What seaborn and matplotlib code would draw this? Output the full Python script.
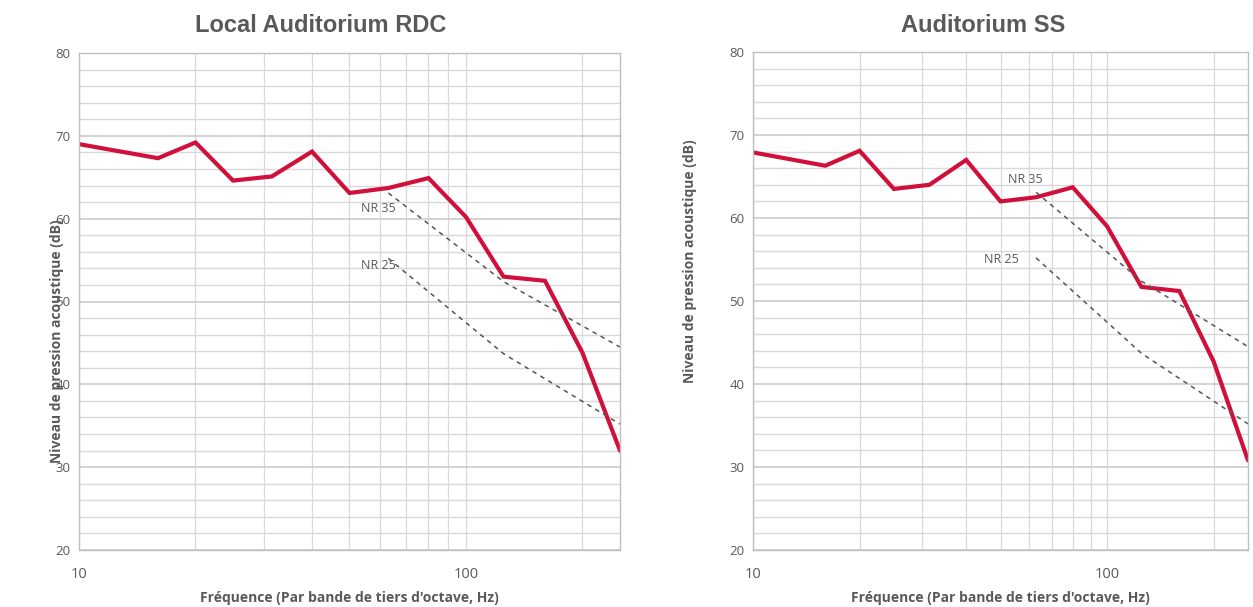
import numpy as np
import pandas as pd
import matplotlib
matplotlib.use("Agg")
import matplotlib.pyplot as plt
import matplotlib.ticker as mticker
import seaborn as sns

# Third-octave band centre frequencies (Hz)
freqs = [10, 16, 20, 25, 31.5, 40, 50, 63, 80, 100, 125, 160, 200, 250]

# Measured sound pressure levels (dB)
level_rdc = [69.0, 67.3, 69.2, 64.6, 65.1, 68.1, 63.1, 63.7, 64.9, 60.2, 53.0, 52.5, 43.8, 32.0]
level_ss = [67.9, 66.3, 68.1, 63.5, 64.0, 67.0, 62.0, 62.5, 63.7, 59.0, 51.7, 51.2, 42.7, 30.8]

# Noise Rating reference curves (octave bands)
nr_freqs = [63, 125, 250]
nr35 = [63.1, 52.4, 44.5]
nr25 = [55.2, 43.7, 35.2]

titles = ["Local Auditorium RDC", "Auditorium SS"]
ylabel = "Niveau de pression acoustique (dB)"
xlabel = "Fréquence (Par bande de tiers d'octave, Hz)"

sns.set_style("white")
plt.rcParams["font.family"] = ["Open Sans", "DejaVu Sans"]

W, H = 1253, 607
fig = plt.figure(figsize=(W / 100, H / 100), dpi=100)

panels = [
    dict(rect=(79, 53, 620, 550), data=level_rdc, title=titles[0], title_x=321,
         lab_coords=(-0.028, 0.42), nr35_txt=(53.5, 61.2), nr25_txt=(53.5, 54.4)),
    dict(rect=(753, 52, 1248, 550), data=level_ss, title=titles[1], title_x=983,
         lab_coords=(-0.113, 0.58), nr35_txt=(52.5, 64.6), nr25_txt=(45.0, 55.0)),
]

grid_col = "#d9d9d9"
text_col = "#595959"

for p in panels:
    x0, y0, x1, y1 = p["rect"]
    ax = fig.add_axes([x0 / W, 1 - y1 / H, (x1 - x0) / W, (y1 - y0) / H])
    ax.set_xscale("log")
    ax.set_xlim(10, 250)
    ax.set_ylim(20, 80)

    ax.yaxis.set_major_locator(mticker.MultipleLocator(10))
    ax.yaxis.set_minor_locator(mticker.MultipleLocator(2))
    ax.xaxis.set_major_locator(mticker.FixedLocator([10, 100]))
    ax.xaxis.set_minor_locator(mticker.FixedLocator([20, 30, 40, 50, 60, 70, 80, 90, 200]))
    ax.xaxis.set_major_formatter(mticker.FormatStrFormatter("%d"))
    ax.xaxis.set_minor_formatter(mticker.NullFormatter())

    ax.grid(which="major", axis="y", color="#c8c8c8", lw=1.1)
    ax.grid(which="minor", axis="y", color=grid_col, lw=1.0)
    ax.grid(which="both", axis="x", color=grid_col, lw=0.9)
    ax.set_axisbelow(True)

    for s in ax.spines.values():
        s.set_color("#bfbfbf")
        s.set_linewidth(1.0)

    ax.tick_params(axis="both", which="major", length=4, width=0.9, color="#bfbfbf",
                   labelsize=9.5, labelcolor=text_col, pad=2)
    ax.tick_params(axis="x", which="major", pad=8, labelsize=10.5)
    ax.tick_params(axis="both", which="minor", length=0)

    df = pd.DataFrame({"f": freqs, "L": p["data"]})
    sns.lineplot(data=df, x="f", y="L", ax=ax, color="#d0103a", lw=3.0,
                 solid_joinstyle="miter")
    nr = pd.DataFrame({"f": nr_freqs, "NR35": nr35, "NR25": nr25})
    sns.lineplot(data=nr, x="f", y="NR35", ax=ax, color="#555555", lw=1.1, ls=(0, (3, 3)))
    sns.lineplot(data=nr, x="f", y="NR25", ax=ax, color="#555555", lw=1.1, ls=(0, (3, 3)))

    ax.text(p["nr35_txt"][0], p["nr35_txt"][1], "NR 35", fontsize=9, color=text_col,
            va="center", ha="left")
    ax.text(p["nr25_txt"][0], p["nr25_txt"][1], "NR 25", fontsize=9, color=text_col,
            va="center", ha="left")

    ax.set_xlabel(xlabel, fontsize=10, fontweight="bold", color=text_col, labelpad=7)
    ax.set_ylabel(ylabel, fontsize=10, fontweight="bold", color=text_col)
    ax.yaxis.set_label_coords(*p["lab_coords"])

    fig.text(p["title_x"] / W, 1 - 25 / H, p["title"], fontsize=17, fontweight="bold",
             color=text_col, family=["Liberation Sans", "DejaVu Sans"],
             ha="center", va="center")

fig.savefig("out.png", dpi=100)
